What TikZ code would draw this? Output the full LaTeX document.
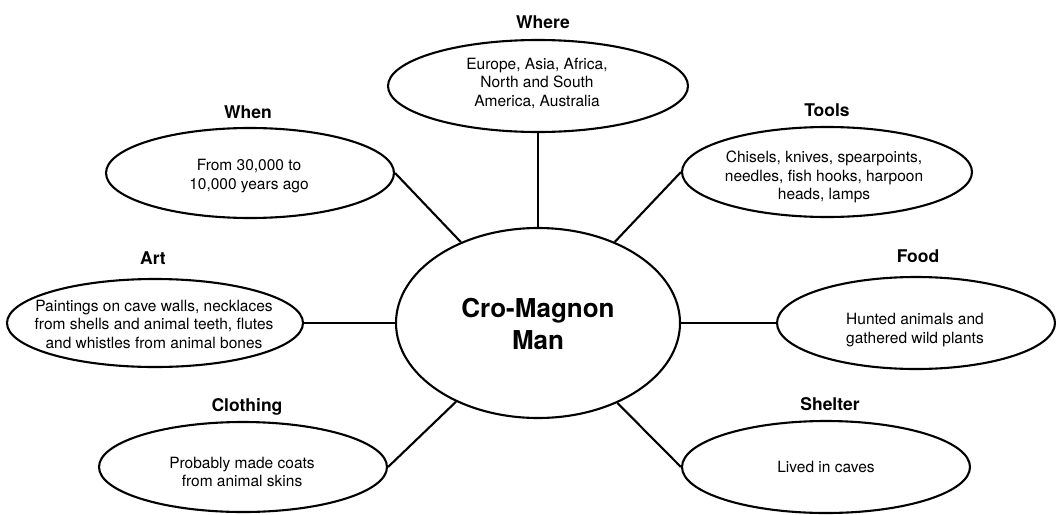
\documentclass[tikz,border=0pt]{standalone}
\usepackage{fontspec}
\setmainfont{TeX Gyre Heros}
\usetikzlibrary{shapes.geometric}
\tikzset{
  bubble/.style={draw, ellipse, line width=2.1pt, inner sep=0pt},
  body/.style={align=center, inner sep=0pt, font=\fontsize{15.5}{18.5}\selectfont},
  head/.style={inner sep=0pt, font=\fontsize{17.5}{20}\selectfont\bfseries},
  hub/.style={align=center, inner sep=0pt, font=\fontsize{26}{32}\selectfont\bfseries},
  spoke/.style={line width=2.1pt},
}
\begin{document}
\begin{tikzpicture}[x=1pt, y=-1pt]
\useasboundingbox (0,0) rectangle (1056,514);

% central topic
\node[bubble, minimum width=284, minimum height=190] (cm) at (538,323) {};
\node[hub] (cm-t) at (538,324) {Cro-Magnon\\Man};

% surrounding topics: ellipse, heading, description
\node[bubble, minimum width=300, minimum height=92] (where) at (538,86) {};
\node[head] (where-h) at (543,22) {Where};
\node[body] (where-t) at (537,83) {Europe, Asia, Africa,\\North and South\\America, Australia};

\node[bubble, minimum width=288, minimum height=90] (when) at (250,173) {};
\node[head] (when-h) at (248,112) {When};
\node[body] (when-t) at (249,176) {From 30,000 to\\10,000 years ago};

\node[bubble, minimum width=290, minimum height=90] (tools) at (827,172) {};
\node[head] (tools-h) at (827,110) {Tools};
\node[body] (tools-t) at (824,177) {Chisels, knives, spearpoints,\\needles, fish hooks, harpoon\\heads, lamps};

\node[bubble, minimum width=296, minimum height=88] (art) at (155,323) {};
\node[head] (art-h) at (153,258) {Art};
\node[body] (art-t) at (154,324) {Paintings on cave walls, necklaces\\from shells and animal teeth, flutes\\and whistles from animal bones};

\node[bubble, minimum width=278, minimum height=92] (food) at (916,323) {};
\node[head] (food-h) at (918,256) {Food};
\node[body] (food-t) at (915,330) {Hunted animals and\\gathered wild plants};

\node[bubble, minimum width=288, minimum height=90] (clothing) at (243,467) {};
\node[head] (clothing-h) at (247,407) {Clothing};
\node[body] (clothing-t) at (242,472) {Probably made coats\\from animal skins};

\node[bubble, minimum width=288, minimum height=92] (shelter) at (826,467) {};
\node[head] (shelter-h) at (830,404) {Shelter};
\node[body] (shelter-t) at (826,467) {Lived in caves};

% spokes to the centre
\draw[spoke] (where.south) -- (cm.north);
\draw[spoke] (when.east) -- (cm);
\draw[spoke] (tools.west) -- (cm);
\draw[spoke] (art.east) -- (cm.west);
\draw[spoke] (food.west) -- (cm.east);
\draw[spoke] (clothing.east) -- (cm);
\draw[spoke] (shelter.west) -- (cm);
\end{tikzpicture}
\end{document}
